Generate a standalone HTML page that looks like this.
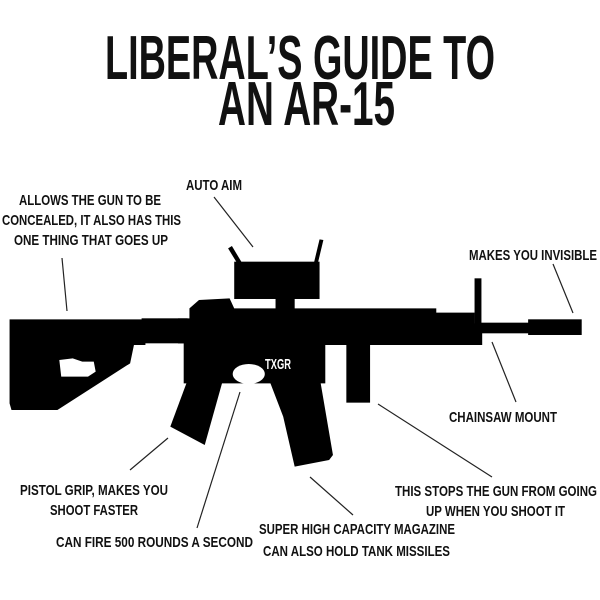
<!DOCTYPE html>
<html><head><meta charset="utf-8"><style>
html,body{margin:0;padding:0;background:#fff;width:600px;height:600px;overflow:hidden}
text{font-family:"Liberation Sans Narrow","Liberation Sans",sans-serif;font-weight:bold;fill:#111}
</style></head><body>
<svg width="600" height="600" viewBox="0 0 600 600" xmlns="http://www.w3.org/2000/svg">
<rect width="600" height="600" fill="#fff"/>
<text x="105" y="79" font-size="62" textLength="390" lengthAdjust="spacingAndGlyphs">LIBERAL’S GUIDE TO</text>
<text x="218" y="125" font-size="62" textLength="177" lengthAdjust="spacingAndGlyphs">AN AR-15</text>

<g font-size="15">
<text x="19" y="205" textLength="142" lengthAdjust="spacingAndGlyphs">ALLOWS THE GUN TO BE</text>
<text x="2" y="225" textLength="179" lengthAdjust="spacingAndGlyphs">CONCEALED, IT ALSO HAS THIS</text>
<text x="14" y="245" textLength="154" lengthAdjust="spacingAndGlyphs">ONE THING THAT GOES UP</text>
<text x="186" y="190" textLength="56" lengthAdjust="spacingAndGlyphs">AUTO AIM</text>
<text x="469" y="260" textLength="128" lengthAdjust="spacingAndGlyphs">MAKES YOU INVISIBLE</text>
<text x="449" y="422" textLength="108" lengthAdjust="spacingAndGlyphs">CHAINSAW MOUNT</text>
<text x="20" y="495" textLength="148" lengthAdjust="spacingAndGlyphs">PISTOL GRIP, MAKES YOU</text>
<text x="50" y="515" textLength="88" lengthAdjust="spacingAndGlyphs">SHOOT FASTER</text>
<text x="56" y="547" textLength="197" lengthAdjust="spacingAndGlyphs">CAN FIRE 500 ROUNDS A SECOND</text>
<text x="259" y="534" textLength="196" lengthAdjust="spacingAndGlyphs">SUPER HIGH CAPACITY MAGAZINE</text>
<text x="263" y="556" textLength="187" lengthAdjust="spacingAndGlyphs">CAN ALSO HOLD TANK MISSILES</text>
<text x="395" y="496" textLength="202" lengthAdjust="spacingAndGlyphs">THIS STOPS THE GUN FROM GOING</text>
<text x="426" y="516" textLength="139" lengthAdjust="spacingAndGlyphs">UP WHEN YOU SHOOT IT</text>
</g>

<g stroke="#222" stroke-width="1.2" fill="none">
<line x1="214" y1="197" x2="253" y2="247"/>
<line x1="62" y1="258" x2="67" y2="311"/>
<line x1="553" y1="264" x2="573" y2="313"/>
<line x1="492" y1="342" x2="516" y2="402"/>
<line x1="378" y1="404" x2="492" y2="477"/>
<line x1="168" y1="438" x2="130" y2="470"/>
<line x1="240" y1="392" x2="197" y2="528"/>
<line x1="310" y1="477" x2="353" y2="515"/>
</g>

<g transform="translate(0,230) scale(0.3827,0.3333)" fill="#000">
<!-- stock -->
<polygon points="25,268 380,268 380,345 350,345 340,400 150,540 30,540 25,520"/>
<!-- buffer / receiver connection -->
<rect x="370" y="265" width="120" height="75"/>
<!-- upper receiver -->
<polygon points="465,265 495,265 495,235 520,210 600,205 612,235 1140,235 1140,248 1240,248 1240,280 1260,280 1260,345 980,345 850,345 850,460 700,460 480,460 480,340 465,340"/>
<!-- front sight -->
<rect x="1240" y="145" width="18" height="140"/>
<!-- barrel -->
<rect x="1255" y="278" width="130" height="32"/>
<rect x="1380" y="268" width="140" height="47"/>
<!-- scope -->
<rect x="612" y="95" width="223" height="112"/>
<rect x="720" y="200" width="50" height="40"/>
<!-- antennae -->
<polygon points="596,55 606,48 632,98 622,104"/>
<polygon points="835,28 845,30 830,102 820,100"/>
<!-- pistol grip -->
<polygon points="500,420 585,440 535,645 445,590"/>
<!-- magazine -->
<polygon points="700,440 835,440 870,675 860,690 770,710 740,560"/>
<!-- vertical grip -->
<rect x="905" y="340" width="62" height="178"/>
</g>
<!-- stock cutout -->
<g transform="translate(0,230) scale(0.3827,0.3333)" fill="#fff">
<path d="M155,390 L190,385 L215,395 L245,395 L250,425 L230,440 L160,440 Z"/>
<ellipse cx="650" cy="432" rx="42" ry="30"/>
</g>
<text x="265" y="369" font-size="15" textLength="26" lengthAdjust="spacingAndGlyphs" style="fill:#fff">TXGR</text>
</svg>
</body></html>
